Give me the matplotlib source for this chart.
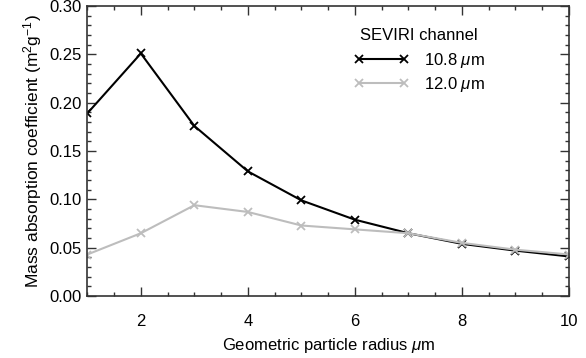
import matplotlib
matplotlib.use('Agg')
import matplotlib.pyplot as plt
from matplotlib.ticker import MultipleLocator

plt.rcParams['font.family'] = ['Liberation Sans', 'DejaVu Sans']
plt.rcParams['mathtext.fontset'] = 'custom'
plt.rcParams['mathtext.rm'] = 'Liberation Sans'
plt.rcParams['mathtext.it'] = 'Liberation Sans:italic'

# данные: радиус частицы и коэффициенты поглощения
radius = [1, 2, 3, 4, 5, 6, 7, 8, 9, 10]
k_108 = [0.189, 0.251, 0.176, 0.129, 0.099, 0.079, 0.065, 0.054, 0.047, 0.041]
k_120 = [0.043, 0.065, 0.094, 0.087, 0.073, 0.069, 0.065, 0.055, 0.048, 0.043]
labels = [r'10.8 $\mu$m', r'12.0 $\mu$m']

fig, ax = plt.subplots(figsize=(5.86, 3.58), dpi=100)
plt.subplots_adjust(left=0.149, right=0.971, top=0.983, bottom=0.173)

ax.plot(radius, k_108, color='black', lw=1.5, marker='x', ms=6, mew=1.3, label=labels[0])
ax.plot(radius, k_120, color='#bdbdbd', lw=1.5, marker='x', ms=6, mew=1.3, label=labels[1])

ax.set_xlim(1, 10)
ax.set_ylim(0, 0.30)
ax.xaxis.set_major_locator(MultipleLocator(2))
ax.xaxis.set_minor_locator(MultipleLocator(0.5))
ax.yaxis.set_major_locator(MultipleLocator(0.05))
ax.yaxis.set_minor_locator(MultipleLocator(0.01))
ax.yaxis.set_major_formatter(plt.FormatStrFormatter('%.2f'))

ax.tick_params(which='both', direction='in', top=True, right=True, width=1.0, color='#333333')
ax.tick_params(which='major', length=6.5, labelsize=12)
ax.tick_params(which='minor', length=3.2)
ax.tick_params(axis='x', which='major', pad=13)
ax.tick_params(axis='y', which='major', pad=4)
for s in ax.spines.values():
    s.set_linewidth(1.2)
    s.set_color('#333333')

ax.set_xlabel(r'Geometric particle radius $\mu$m', fontsize=12, labelpad=5)
ax.set_ylabel(r'Mass absorption coefficient (m$^2$g$^{-1}$)', fontsize=12.5, labelpad=4)

leg = ax.legend(title='SEVIRI channel', loc='upper left', bbox_to_anchor=(0.553, 0.925),
                frameon=False, fontsize=12, title_fontsize=12, numpoints=2,
                handlelength=3.3, handletextpad=0.9, labelspacing=0.3,
                borderpad=0, borderaxespad=0)
leg._legend_box.sep = 6

plt.savefig('out.png', dpi=100)
